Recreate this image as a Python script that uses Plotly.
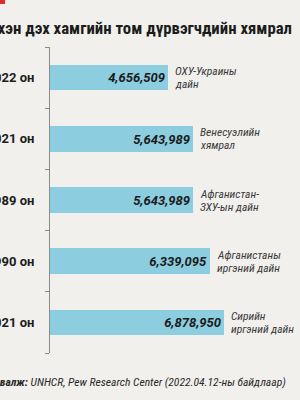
import plotly.graph_objects as go

years = ["2022 он", "2021 он", "1989 он", "1990 он", "2021 он"]
values = [4656509, 5643989, 5643989, 6339095, 6878950]
value_labels = ["4,656,509", "5,643,989", "5,643,989", "6,339,095", "6,878,950"]
events_line1 = ["ОХУ-Украины", "Венесуэлийн", "Афганистан-", "Афганистаны", "Сирийн"]
events_line2 = ["дайн", "хямрал", "ЗХУ-ын дайн", "иргэний дайн", "иргэний дайн"]
title_text = "Сүүлийн зууны эхэн дэх хамгийн том дүрвэгчдийн хямрал"
source_text = "<b>Эх сурвалж:</b> UNHCR, Pew Research Center (2022.04.12-ны байдлаар)"

pos = list(range(len(years)))
bg = "#f1f0ec"
narrow = "Liberation Sans Narrow, Roboto Condensed, Roboto, sans-serif"

fig = go.Figure()
fig.add_trace(go.Bar(
    x=values, y=pos, orientation="h", width=0.42,
    marker=dict(color="#8ccde0", line=dict(width=0)),
    text=value_labels, textposition="inside", insidetextanchor="end",
    textangle=0, constraintext="none",
    insidetextfont=dict(family="Roboto, sans-serif", size=13, color="#1b1b1b",
                        weight="bold", style="italic"),
    hoverinfo="skip",
))
# invisible trace for boundary ticks axis
fig.add_trace(go.Scatter(x=[None], y=[None], yaxis="y2", showlegend=False, hoverinfo="skip"))

for v, p, l1, l2 in zip(values, pos, events_line1, events_line2):
    for txt, ys in ((l1, 6.5), (l2, -6.5)):
        fig.add_annotation(x=v, y=p, xref="x", yref="y", text=txt, showarrow=False,
                           xanchor="left", yanchor="middle", xshift=5, yshift=ys, align="left",
                           font=dict(family=narrow, size=11.5, color="#3a3a3a", style="italic"))

fig.add_annotation(x=0.952, y=-0.095, xref="paper", yref="paper", text=source_text,
                   showarrow=False, xanchor="right", yanchor="middle",
                   font=dict(family=narrow, size=11.6, color="#2a2a2a", style="italic"))

fig.add_shape(type="rect", xref="paper", yref="paper", x0=-0.2, x1=-0.18,
              y0=1 + 43 / 306, y1=1 + 47 / 306, fillcolor="#e0282e", line=dict(width=0))

fig.update_layout(
    width=300, height=400,
    margin=dict(l=50, r=0, t=47, b=47),
    paper_bgcolor=bg, plot_bgcolor=bg,
    showlegend=False, bargap=0,
    title=dict(text="<b>" + title_text + "</b>", xref="container", yref="container",
               x=292 / 300, xanchor="right", y=1 - 28 / 400, yanchor="middle",
               font=dict(family="Roboto Condensed, Roboto, sans-serif", size=16.8, color="#1c1c1c")),
    xaxis=dict(range=[0, 9.88e6], visible=False, fixedrange=True),
    yaxis=dict(range=[4.5, -0.5], tickmode="array", tickvals=pos, ticktext=years,
               ticks="", showline=True, linecolor="#8a8a8a", linewidth=1,
               showgrid=False, zeroline=False, automargin=False, ticklabelstandoff=12,
               tickfont=dict(family="Roboto, sans-serif", size=13, color="#1c1c1c", weight="bold")),
    yaxis2=dict(range=[4.5, -0.5], overlaying="y", side="left", tickmode="array",
                tickvals=[-0.5, 0.5, 1.5, 2.5, 3.5, 4.5], showticklabels=False,
                ticks="outside", ticklen=4, tickcolor="#8a8a8a", showgrid=False,
                zeroline=False, showline=False, automargin=False),
)

fig.write_html("out.html")
